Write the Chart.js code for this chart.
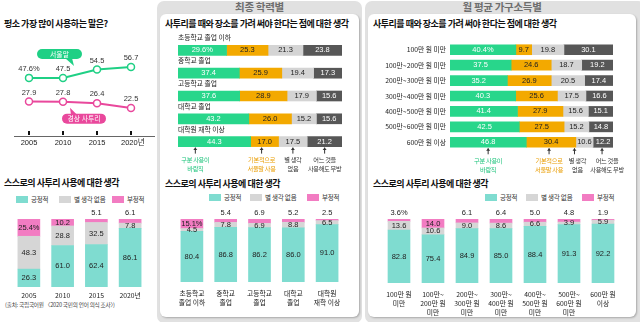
<!DOCTYPE html>
<html>
<head>
<meta charset="utf-8">
<script src="https://cdn.jsdelivr.net/npm/chart.js@4.4.1/dist/chart.umd.min.js"></script>
<style>
body{margin:0;background:#fff;width:640px;height:322px;overflow:hidden;position:relative;font-family:"Noto Sans CJK KR","Noto Sans",sans-serif;color:#222}
canvas{position:absolute}
.frame{position:absolute;background:#e1e1e1;border-radius:7px}
.inner{position:absolute;background:#fff;border-radius:6px;box-shadow:1px 1px 2px rgba(0,0,0,0.25)}
.head{position:absolute;font-size:10.5px;font-weight:bold;color:#6e6e6e;text-align:center;line-height:14px;letter-spacing:-0.3px}
.ttl{position:absolute;font-size:9px;font-weight:bold;letter-spacing:-0.5px;white-space:nowrap;line-height:12px;color:#111}
.lg{position:absolute;font-size:6.5px;white-space:nowrap;line-height:8px;color:#333;letter-spacing:-0.2px}
.sw{position:absolute;height:7px}
.src{position:absolute;font-size:5.6px;color:#444;white-space:nowrap;letter-spacing:-0.2px}
</style>
</head>
<body>
<div class="frame" style="left:157px;top:1px;width:205px;height:322px"></div>
<div class="inner" style="left:160px;top:14px;width:199px;height:303px"></div>
<div class="frame" style="left:365px;top:1px;width:280px;height:322px"></div>
<div class="inner" style="left:368px;top:14px;width:268px;height:303px"></div>
<div class="head" style="left:160px;top:0px;width:199px">최종 학력별</div>
<div class="head" style="left:368px;top:0px;width:268px">월 평균 가구소득별</div>

<div class="ttl" style="left:4px;top:18px">평소 가장 많이 사용하는 말은?</div>
<div class="ttl" style="left:4px;top:177px">스스로의 사투리 사용에 대한 생각</div>
<div class="ttl" style="left:165px;top:18px">사투리를 때와 장소를 가려 써야 한다는 점에 대한 생각</div>
<div class="ttl" style="left:165px;top:178px">스스로의 사투리 사용에 대한 생각</div>
<div class="ttl" style="left:373px;top:18px">사투리를 때와 장소를 가려 써야 한다는 점에 대한 생각</div>
<div class="ttl" style="left:373px;top:178px">스스로의 사투리 사용에 대한 생각</div>
<div class="src" style="left:5px;top:301px">(출처: 국립국어원 〈2020 국민의 언어 의식 조사〉)</div>

<script>
// ---- data ----
const years = ['2005', '2010', '2015', '2020년'];
const seoulMal = [47.6, 47.5, 54.5, 56.7];
const gyeongsang = [27.9, 27.8, 26.4, 22.5];

const opinionLabels = ['긍정적', '별 생각 없음', '부정적'];
const yearPositive = [26.3, 61.0, 62.4, 86.1];
const yearNeutral = [48.3, 28.8, 32.5, 7.8];
const yearNegative = [25.4, 10.2, 5.1, 6.1];

const useLabels = [['구분 사용이', '바람직'], ['기본적으로', '서울말 사용'], ['별 생각', '없음'], ['어느 것을', '사용해도 무방']];

const eduLabels = ['초등학교 졸업 이하', '중학교 졸업', '고등학교 졸업', '대학교 졸업', '대학원 재학 이상'];
const eduShort = [['초등학교', '졸업 이하'], ['중학교', '졸업'], ['고등학교', '졸업'], ['대학교', '졸업'], ['대학원', '재학 이상']];
const eduSeparate = [29.6, 37.4, 37.6, 43.2, 44.3];
const eduSeoul = [25.3, 25.9, 28.9, 26.0, 17.0];
const eduNoIdea = [21.3, 19.4, 17.9, 15.2, 17.5];
const eduAny = [23.8, 17.3, 15.6, 15.6, 21.2];
const eduPositive = [80.4, 86.8, 86.2, 86.0, 91.0];
const eduNeutral = [4.5, 7.8, 6.9, 8.8, 6.5];
const eduNegative = [15.1, 5.4, 6.9, 5.2, 2.5];

const incLabels = ['100만 원 미만', '100만~200만 원 미만', '200만~300만 원 미만', '300만~400만 원 미만',
  '400만~500만 원 미만', '500만~600만 원 미만', '600만 원 이상'];
const incShort = [['100만 원', '미만'], ['100만~', '200만 원', '미만'], ['200만~', '300만 원', '미만'],
  ['300만~', '400만 원', '미만'], ['400만~', '500만 원', '미만'], ['500만~', '600만 원', '미만'], ['600만 원', '이상']];
const incSeparate = [40.4, 37.5, 35.2, 40.3, 41.4, 42.5, 46.8];
const incSeoul = [9.7, 24.6, 26.9, 25.6, 27.9, 27.5, 30.4];
const incNoIdea = [19.8, 18.7, 20.5, 17.5, 15.6, 15.2, 10.6];
const incAny = [30.1, 19.2, 17.4, 16.6, 15.1, 14.8, 12.2];
const incPositive = [82.8, 75.4, 84.9, 85.0, 88.4, 91.3, 92.2];
const incNeutral = [13.6, 10.6, 9.0, 8.6, 6.6, 3.9, 5.9];
const incNegative = [3.6, 14.0, 6.1, 6.4, 5.0, 4.8, 1.9];

// ---- styles ----
const C = {
  lineGreen: '#1fd085', linePink: '#e9489c',
  teal: '#7fdcd0', gray: '#d6d6d6', pink: '#f27cc2',
  green: '#28d68b', orange: '#f3a900', light: '#d4d4d4', dark: '#575757'
};
const NUM = '7.5px "Liberation Sans Narrow","Liberation Sans","Noto Sans CJK KR",sans-serif';
const KR = '6.8px "Noto Sans CJK KR",sans-serif';
const NOTE = '6.2px "Noto Sans CJK KR",sans-serif';

Chart.defaults.animation = false;
Chart.defaults.plugins.legend.display = false;
Chart.defaults.plugins.tooltip.enabled = false;

function mkCanvas(x, y, w, h) {
  const c = document.createElement('canvas');
  c.width = w; c.height = h;
  c.style.left = x + 'px'; c.style.top = y + 'px';
  document.body.appendChild(c);
  return c.getContext('2d');
}
function text(ctx, s, x, y, font, color, align) {
  ctx.save();
  ctx.font = font; ctx.fillStyle = color;
  ctx.textAlign = align || 'center'; ctx.textBaseline = 'middle';
  ctx.fillText(s, x, y);
  ctx.restore();
}
function legend(y, xs) {
  const cols = [C.teal, C.gray, C.pink];
  opinionLabels.forEach((l, i) => {
    const sw = document.createElement('div');
    sw.className = 'sw';
    sw.style.cssText = `left:${xs[i]}px;top:${y - 3}px;width:12px;background:${cols[i]}`;
    document.body.appendChild(sw);
    const t = document.createElement('div');
    t.className = 'lg'; t.textContent = l;
    t.style.left = (xs[i] + 15) + 'px'; t.style.top = (y - 4) + 'px';
    document.body.appendChild(t);
  });
}
legend(199, [16, 59, 112]);
legend(197, [209, 250, 307]);
legend(197, [485, 526, 582]);

// ---- line chart ----
new Chart(mkCanvas(0, 30, 158, 125), {
  type: 'line',
  data: {
    labels: years,
    datasets: [
      {label: '서울말', data: seoulMal, borderColor: C.lineGreen},
      {label: '경상 사투리', data: gyeongsang, borderColor: C.linePink}
    ]
  },
  options: {
    responsive: false,
    layout: {padding: {left: 12, right: 10, top: 21, bottom: 20}},
    elements: {
      line: {borderWidth: 2, tension: 0},
      point: {radius: 3.5, borderWidth: 1.5, backgroundColor: '#fff'}
    },
    scales: {
      x: {display: false, offset: true},
      y: {display: false, min: 0, max: 70}
    }
  },
  plugins: [{
    id: 'lineDeco',
    beforeDatasetsDraw(chart) {
      const ctx = chart.ctx, a = chart.chartArea, xs = chart.scales.x;
      ctx.save();
      ctx.fillStyle = '#666';
      ctx.fillRect(14, a.bottom + 1, 141, 1);
      ctx.fillStyle = '#111';
      years.forEach((y, i) => {
        const px = xs.getPixelForValue(i);
        ctx.fillRect(px - 1, a.bottom - 4, 2, 4);
        if (i === years.length - 1) text(ctx, y, px - 10, a.bottom + 8, NUM, '#222', 'left');
        else text(ctx, y, px, a.bottom + 8, NUM, '#222');
      });
      ctx.restore();
    },
    afterDatasetsDraw(chart) {
      const ctx = chart.ctx;
      const g = chart.getDatasetMeta(0).data, p = chart.getDatasetMeta(1).data;
      g.forEach((pt, i) => text(ctx, seoulMal[i].toFixed(1) + (i === 0 ? '%' : ''), pt.x, pt.y - 9, NUM, '#333'));
      p.forEach((pt, i) => text(ctx, gyeongsang[i].toFixed(1), pt.x, pt.y - 9, NUM, '#333'));
      // bubble labels
      ctx.save();
      const bx = g[0].x + 8, by = g[1].y - 29;
      ctx.fillStyle = C.lineGreen;
      ctx.beginPath(); ctx.roundRect(bx, by, 45, 10, 5); ctx.fill();
      ctx.beginPath(); ctx.moveTo(bx + 28, by + 9); ctx.lineTo(bx + 35, by + 9); ctx.lineTo(bx + 37, by + 17); ctx.fill();
      text(ctx, '서울말', bx + 22.5, by + 5, KR, '#fff');
      const qx = p[1].x - 1, qy = p[1].y + 12;
      ctx.fillStyle = C.linePink;
      ctx.beginPath(); ctx.roundRect(qx, qy, 44, 10, 5); ctx.fill();
      ctx.beginPath(); ctx.moveTo(qx + 9, qy + 1); ctx.lineTo(qx + 15, qy + 1); ctx.lineTo(qx + 8, qy - 6); ctx.fill();
      text(ctx, '경상 사투리', qx + 22, qy + 5, KR, '#fff');
      ctx.restore();
    }
  }]
});

// ---- stacked columns ----
function columns(ctx, cats, pos, neu, neg, pad, lineStart) {
  return new Chart(ctx, {
    type: 'bar',
    data: {
      labels: cats.map(c => c.join(' ')),
      datasets: [
        {label: opinionLabels[0], data: pos, backgroundColor: C.teal},
        {label: opinionLabels[1], data: neu, backgroundColor: C.gray},
        {label: opinionLabels[2], data: neg, backgroundColor: C.pink}
      ]
    },
    options: {
      responsive: false,
      layout: {padding: pad},
      datasets: {bar: {barThickness: 22}},
      scales: {
        x: {stacked: true, display: false},
        y: {stacked: true, display: false, min: 0, max: 100}
      }
    },
    plugins: [{
      id: 'colLabels',
      afterDatasetsDraw(chart) {
        const ctx = chart.ctx, a = chart.chartArea;
        chart.data.datasets.forEach((ds, d) => {
          chart.getDatasetMeta(d).data.forEach((el, i) => {
            const v = ds.data[i];
            const s = v.toFixed(1) + (d === 2 && i === 0 ? '%' : '');
            if (d === 2 && v < 10) text(ctx, s, el.x, el.y - 6, NUM, '#222');
            else text(ctx, s, el.x, (el.y + el.base) / 2, NUM, '#222');
          });
        });
        cats.forEach((lines, i) => {
          const px = chart.scales.x.getPixelForValue(i);
          lines.forEach((l, k) => text(ctx, l, px, a.bottom + lineStart + k * 9, KR, '#222'));
        });
      }
    }]
  });
}
columns(mkCanvas(0, 205, 158, 113), years.map(y => [y]), yearPositive, yearNeutral, yearNegative,
  {left: 12, right: 11, top: 14, bottom: 31}, 8);
columns(mkCanvas(160, 205, 198, 110), eduShort, eduPositive, eduNeutral, eduNegative,
  {left: 15, right: 14, top: 14, bottom: 33}, 11);
columns(mkCanvas(368, 205, 268, 112), incShort, incPositive, incNeutral, incNegative,
  {left: 14, right: 16, top: 14, bottom: 34}, 11);

// ---- stacked horizontal bars ----
function rows(ctx, cats, series, pad, labelsAbove, noteShift) {
  const cols = [C.green, C.orange, C.light, C.dark];
  const txtCols = ['#fff', '#222', '#222', '#fff'];
  return new Chart(ctx, {
    type: 'bar',
    data: {
      labels: cats,
      datasets: series.map((s, d) => ({label: useLabels[d].join(' '), data: s, backgroundColor: cols[d]}))
    },
    options: {
      indexAxis: 'y',
      responsive: false,
      layout: {padding: pad},
      datasets: {bar: {barThickness: 10}},
      scales: {
        x: {stacked: true, display: false, min: 0, max: 100},
        y: {stacked: true, display: false}
      }
    },
    plugins: [{
      id: 'rowLabels',
      afterDatasetsDraw(chart) {
        const ctx = chart.ctx, a = chart.chartArea;
        chart.data.datasets.forEach((ds, d) => {
          chart.getDatasetMeta(d).data.forEach((el, i) => {
            const s = ds.data[i].toFixed(1) + (d === 0 && i === 0 ? '%' : '');
            text(ctx, s, (el.x + el.base) / 2, el.y, NUM, txtCols[d]);
          });
        });
        cats.forEach((c, i) => {
          const py = chart.scales.y.getPixelForValue(i);
          if (labelsAbove) text(ctx, c, a.left, py - 12.5, KR, '#222', 'left');
          else text(ctx, c, a.left - 4, py, KR, '#222', 'right');
        });
        // notes under the last bar
        const last = cats.length - 1;
        const noteCols = ['#1fc47d', '#e99c00', '#333', '#333'];
        ctx.save();
        ctx.letterSpacing = '-0.3px';
        chart.data.datasets.forEach((ds, d) => {
          const el = chart.getDatasetMeta(d).data[last];
          const ax = (el.x + el.base) / 2 + noteShift[d][0];
          const tx = ax + noteShift[d][1];
          const y0 = el.y + 6;
          ctx.fillStyle = '#333';
          ctx.fillRect(ax - 0.5, y0, 1, 6);
          ctx.beginPath(); ctx.moveTo(ax - 2, y0 + 2.5); ctx.lineTo(ax + 2, y0 + 2.5); ctx.lineTo(ax, y0); ctx.fill();
          useLabels[d].forEach((l, k) => {
            ctx.font = NOTE; ctx.fillStyle = noteCols[d];
            ctx.textAlign = 'center'; ctx.textBaseline = 'middle';
            ctx.fillText(l, tx, y0 + 12 + k * 9);
          });
        });
        ctx.restore();
      }
    }]
  });
}
rows(mkCanvas(160, 28, 198, 150), eduLabels, [eduSeparate, eduSeoul, eduNoIdea, eduAny],
  {left: 18, right: 16, top: 11, bottom: 25}, true, [[-19, 0], [-3, 0], [0, 0], [0, 0]]);
rows(mkCanvas(368, 28, 268, 150), incLabels, [incSeparate, incSeoul, incNoIdea, incAny],
  {left: 82, right: 23, top: 14, bottom: 28}, false, [[0, 0], [-2, 0], [-10, 3], [-1, 5]]);
</script>
</body>
</html>
